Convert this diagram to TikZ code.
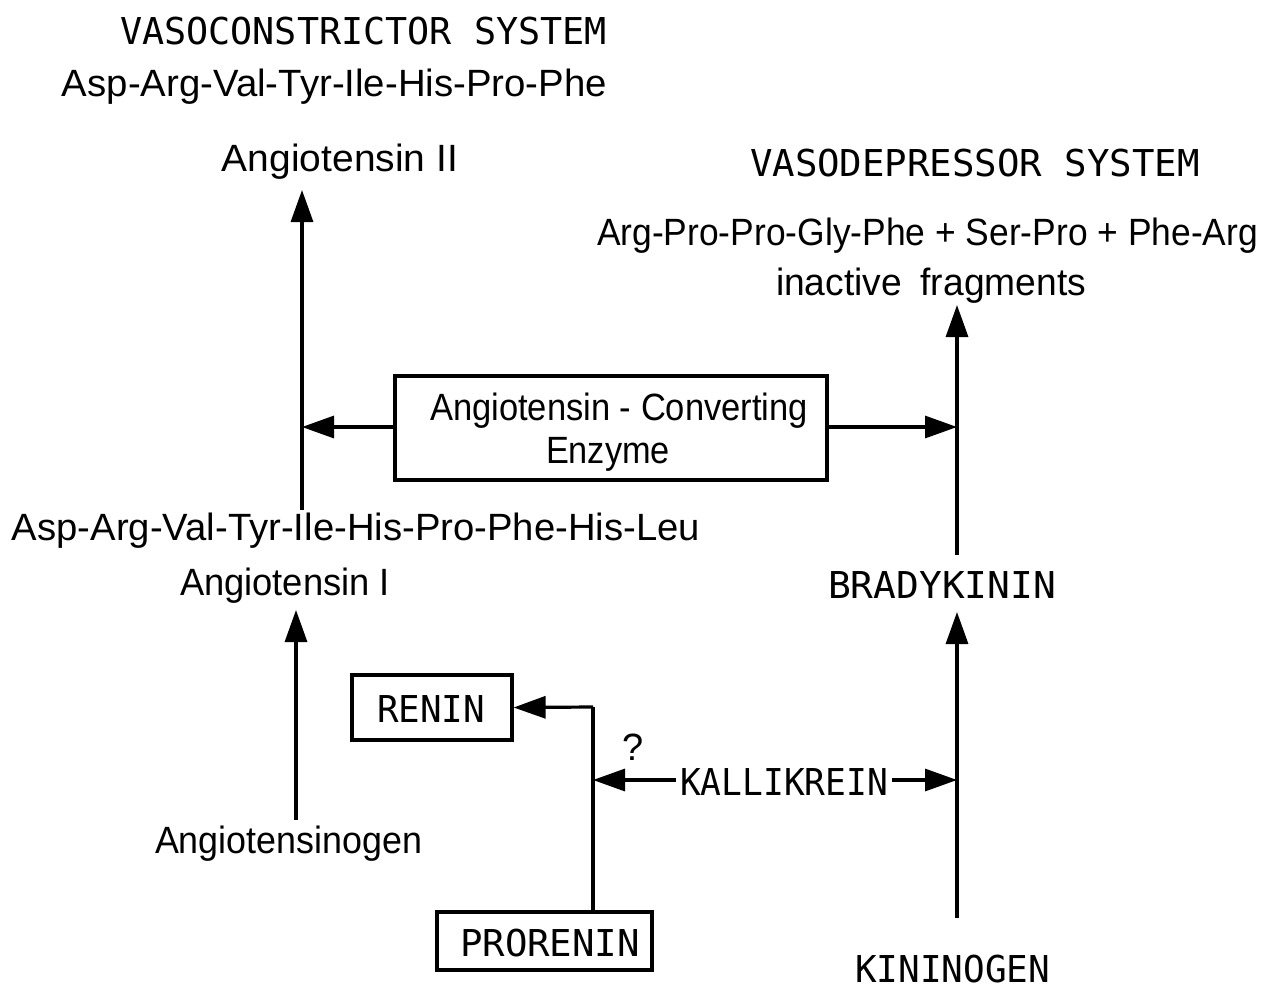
\documentclass[tikz,border=0pt]{standalone}
\usepackage{fontspec}
\setmainfont{Liberation Sans}
\newfontfamily\capsfont{DejaVu Sans Mono}
\usepackage{graphicx}
\usetikzlibrary{arrows.meta}
\newcommand\fw[2]{\resizebox{#1pt}{\height}{#2}}
\begin{document}
\begin{tikzpicture}[x=1pt,y=-1pt,
  txt/.style={inner sep=0pt,anchor=base,font=\fontsize{38}{42}\selectfont},
  captxt/.style={inner sep=0pt,anchor=base,font=\fontsize{37}{42}\capsfont},
  box/.style={draw,line width=3.2pt,inner sep=0pt},
  arr/.style={line width=3.2pt,-{Triangle[length=32pt,width=22pt]}},
  ln/.style={line width=3.2pt}]
\path[use as bounding box,fill=white] (0,0) rectangle (1263,991);
% left column texts
\node[captxt] (vc) at (363.5,44) {\fw{487}{VASOCONSTRICTOR SYSTEM}};
\node[txt] (seq8) at (334.5,96) {\fw{545}{Asp-Arg-Val-Tyr-Ile-His-Pro-Phe}};
\node[txt] (angII) at (340,171) {\fw{236}{Angiotensin II}};
\node[txt] (seq10) at (356,540) {\fw{688}{Asp-Arg-Val-Tyr-Ile-His-Pro-Phe-His-Leu}};
\node[txt] (angI) at (285,595) {\fw{210}{Angiotensin I}};
\node[txt] (angen) at (288.5,853) {\fw{267}{Angiotensinogen}};
% right column texts
\node[captxt] (vd) at (975,176) {\fw{450}{VASODEPRESSOR SYSTEM}};
\node[txt] (frag) at (927.5,245) {\fw{661}{Arg-Pro-Pro-Gly-Phe + Ser-Pro + Phe-Arg}};
\node[txt] (inact) at (931,295) {\fw{310}{inactive\hspace{0.5em}fragments}};
\node[captxt] (brady) at (942,598) {\fw{228}{BRADYKININ}};
\node[captxt] (kinin) at (952.5,982) {\fw{195}{KININOGEN}};
% boxes
\node[box,minimum width=432pt,minimum height=104pt] (ace) at (611,428) {};
\node[txt] (ace1) at (619,420) {\fw{378}{Angiotensin - Converting}};
\node[txt] (ace2) at (608,463) {\fw{124}{Enzyme}};
\node[box,minimum width=160pt,minimum height=65pt] (renin) at (432,707.5) {};
\node[captxt] (renint) at (431,722) {\fw{108}{RENIN}};
\node[box,minimum width=215pt,minimum height=58pt] (pro) at (544.5,941) {};
\node[captxt] (prot) at (550,956) {\fw{180}{PRORENIN}};
\node[captxt] (kal) at (784,795) {\fw{208}{KALLIKREIN}};
\node[txt] (q) at (633,760) {?};
% junction coordinates
\coordinate (jL) at (302,427);
\coordinate (jLtop) at (302,190);
\coordinate (jLbot) at (302,510);
\coordinate (agTop) at (296,820);
\coordinate (agTip) at (296,610);
\coordinate (jR) at (957,427);
\coordinate (jRtop) at (957,305);
\coordinate (jRbot) at (957,555);
\coordinate (kTop) at (957,612);
\coordinate (kBot) at (957,918);
\coordinate (kJ) at (957,780);
\coordinate (pJ) at (593,780);
\coordinate (pTop) at (593,707);
\coordinate (pBot) at (593,912);
% connectors
\draw[arr] (jLbot) -- (jLtop);
\draw[arr] (ace.west |- jL) -- (jL);
\draw[arr] (ace.east |- jR) -- (jR);
\draw[arr] (agTop) -- (agTip);
\draw[arr] (jRbot) -- (jRtop);
\draw[arr] (kBot) -- (kTop);
\draw[ln] (pBot) -- (pTop);
\draw[arr] (pTop) -- (renin.east);
\draw[arr] ([xshift=-4pt]kal.west |- pJ) -- (pJ);
\draw[arr] ([xshift=4pt]kal.east |- kJ) -- (kJ);
\end{tikzpicture}
\end{document}
